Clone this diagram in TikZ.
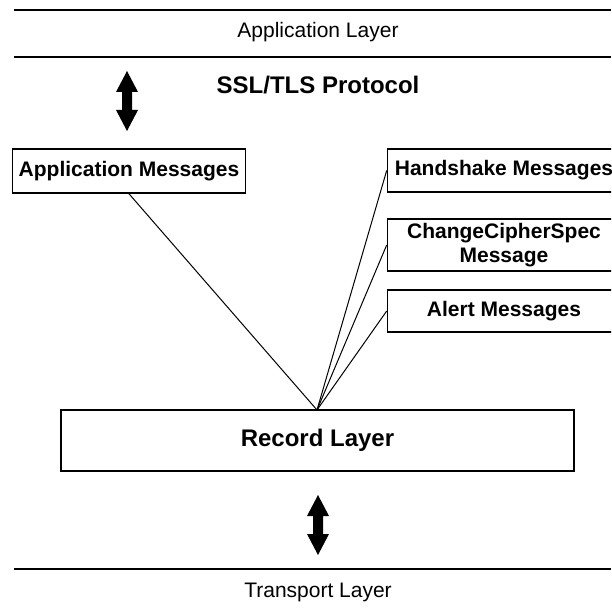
\documentclass[tikz,border=0pt]{standalone}
\usepackage{fontspec}
\setmainfont{Liberation Sans}
\begin{document}
\begin{tikzpicture}[x=1pt,y=-1pt,
  layerline/.style={line width=1.6pt},
  layertext/.style={font=\fontsize{21}{24}\selectfont, inner sep=0pt},
  titletext/.style={font=\bfseries\fontsize{24}{28}\selectfont, inner sep=0pt},
  msgbox/.style={draw, line width=1.6pt, minimum width=233pt, inner sep=0pt, align=center,
    font=\bfseries\fontsize{21}{23.5}\selectfont},
  recbox/.style={draw, line width=1.6pt, minimum width=513pt, minimum height=61pt, inner sep=0pt,
    font=\bfseries\fontsize{24}{28}\selectfont},
  link/.style={line width=1pt},
  bigarrow/.style={fill=black}
]
\useasboundingbox (0,0) rectangle (611,612);
\clip (0,0) rectangle (611,612);

% layer lines
\coordinate (l1a) at (14,10);  \coordinate (l1b) at (611,10);
\coordinate (l2a) at (14,57);  \coordinate (l2b) at (611,57);
\coordinate (l3a) at (14,569); \coordinate (l3b) at (611,569);
\draw[layerline] (l1a) -- (l1b);
\draw[layerline] (l2a) -- (l2b);
\draw[layerline] (l3a) -- (l3b);

\node[layertext] (app) at (318,32) {Application Layer};
\node[titletext] (ssl) at (318,85) {SSL/TLS Protocol};
\node[layertext] (trans) at (318,592) {Transport Layer};

% boxes
\node[msgbox, minimum height=44pt] (am) at (129,171) {Application Messages};
\node[msgbox, minimum height=43pt] (hs) at (504,170.5) {Handshake Messages};
\node[msgbox, minimum height=52pt] (ccs) at (504,245) {ChangeCipherSpec\\Message};
\node[msgbox, minimum height=42pt] (al) at (504,311) {Alert Messages};
\node[recbox] (rec) at (317.5,440.5) {Record Layer};

\coordinate (conv) at (317,410);
\draw[link] (am.south) -- (conv);
\draw[link] (hs.west) -- (conv);
\draw[link] (ccs.west) -- (conv);
\draw[link] (al.west) -- (conv);

% double arrows
\coordinate (a1) at (127,101);
\coordinate (a2) at (318,525);
\foreach \c in {a1,a2}{
  \fill[bigarrow] ([shift={(0,-30)}]\c) -- ([shift={(11,-9)}]\c) -- ([shift={(5,-9)}]\c)
    -- ([shift={(5,9)}]\c) -- ([shift={(11,9)}]\c) -- ([shift={(0,30)}]\c)
    -- ([shift={(-11,9)}]\c) -- ([shift={(-5,9)}]\c) -- ([shift={(-5,-9)}]\c)
    -- ([shift={(-11,-9)}]\c) -- cycle;
}
\end{tikzpicture}
\end{document}
